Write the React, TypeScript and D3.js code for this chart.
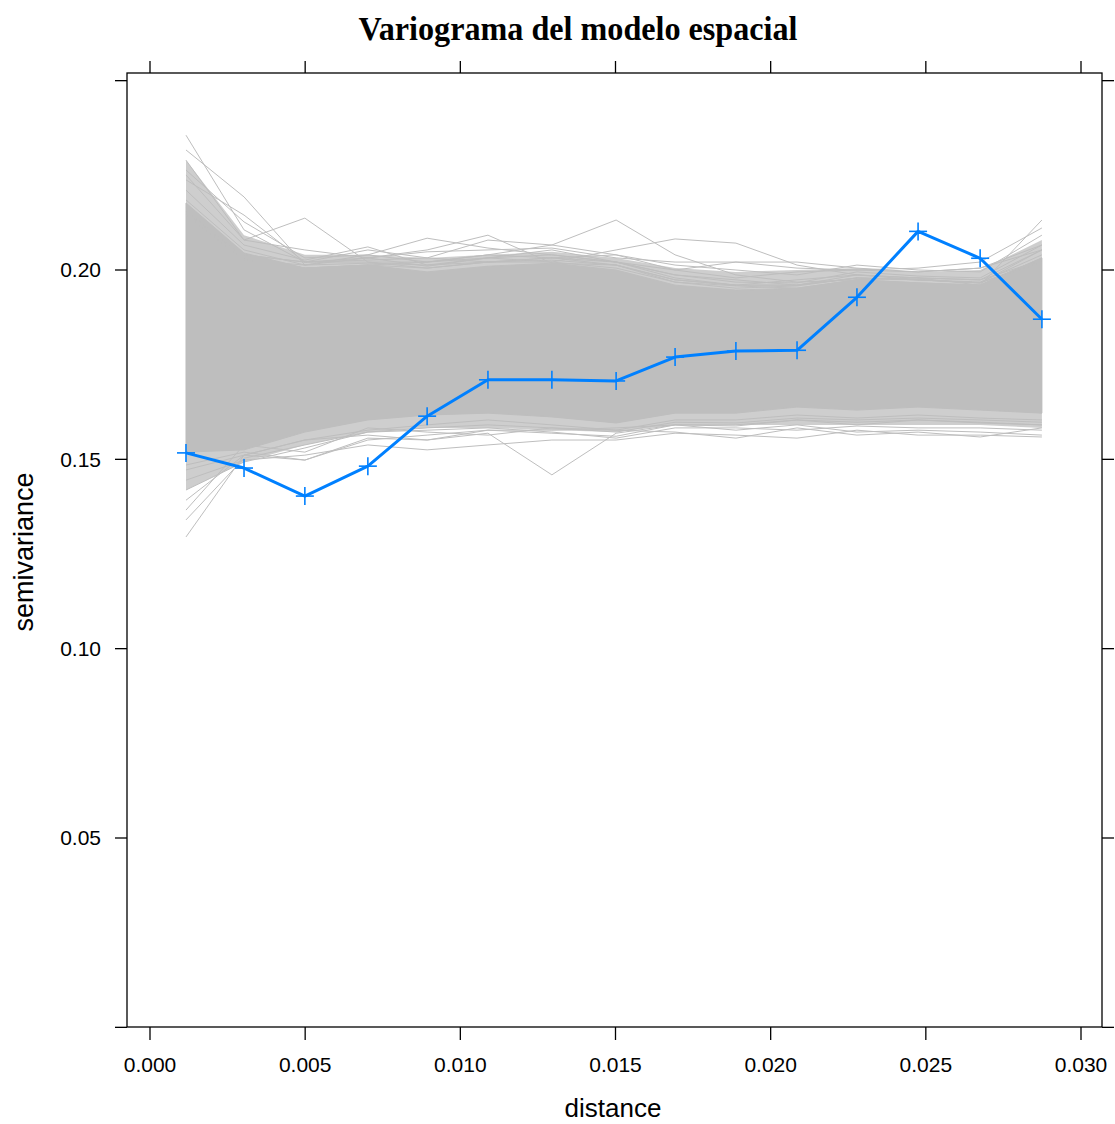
import React from "react";
import * as d3 from "d3";

// ---- data ----
const distances = [0.00116, 0.00303, 0.00499, 0.00702, 0.00893, 0.01089, 0.01295, 0.01502, 0.01692, 0.01888, 0.02085, 0.02278, 0.02475, 0.02675, 0.02874];
const observedGamma = [0.1517, 0.1477, 0.1403, 0.1482, 0.1614, 0.1710, 0.1710, 0.1707, 0.1770, 0.1786, 0.1788, 0.1928, 0.2102, 0.2031, 0.1870];

// dense core of the simulated envelope
const envelopeUpper = [0.2177, 0.2045, 0.2005, 0.2013, 0.1995, 0.2010, 0.2018, 0.2000, 0.1960, 0.1947, 0.1952, 0.1974, 0.1966, 0.1960, 0.2032];
const envelopeLower = [0.1519, 0.1525, 0.1572, 0.1604, 0.1617, 0.1622, 0.1612, 0.1596, 0.1622, 0.1622, 0.1638, 0.1630, 0.1638, 0.1630, 0.1622];
// looser fringe of the envelope
const fringeUpper = [0.2290, 0.2092, 0.2040, 0.2040, 0.2032, 0.2040, 0.2048, 0.2032, 0.2005, 0.1995, 0.2000, 0.2005, 0.1995, 0.2000, 0.2079];
const fringeLower = [0.1419, 0.1493, 0.1538, 0.1572, 0.1583, 0.1583, 0.1577, 0.1572, 0.1591, 0.1591, 0.1591, 0.1591, 0.1591, 0.1591, 0.1583];

// individual simulated variograms visible outside the dense core
const simUpper1 = [0.2356, 0.2106, 0.2021, 0.2021, 0.2005, 0.2021, 0.2032, 0.2013, 0.1974, 0.1960, 0.1960, 0.1979, 0.1974, 0.1968, 0.2040];
const simUpper2 = [0.2317, 0.2193, 0.2013, 0.2032, 0.2010, 0.2032, 0.2053, 0.2021, 0.1979, 0.1960, 0.1974, 0.1987, 0.1979, 0.1974, 0.2053];
const simUpper3 = [0.2251, 0.2079, 0.2137, 0.2021, 0.2021, 0.2040, 0.2032, 0.2021, 0.1987, 0.1968, 0.1966, 0.1995, 0.1984, 0.1979, 0.2066];
const simUpper4 = [0.2211, 0.2066, 0.2026, 0.2061, 0.2013, 0.2021, 0.2026, 0.2013, 0.1974, 0.1960, 0.1960, 0.1979, 0.1974, 0.1966, 0.2053];
const simUpper5 = [0.2185, 0.2053, 0.2013, 0.2040, 0.2084, 0.2058, 0.2040, 0.2021, 0.1987, 0.1974, 0.1960, 0.1987, 0.1979, 0.1974, 0.2026];
const simUpper6 = [0.2172, 0.2040, 0.2021, 0.2032, 0.2053, 0.2092, 0.2018, 0.2013, 0.1968, 0.1952, 0.1958, 0.1979, 0.1974, 0.1966, 0.2021];
const simUpper7 = [0.2158, 0.2032, 0.2005, 0.2013, 0.2021, 0.2040, 0.2066, 0.2132, 0.2040, 0.1987, 0.1968, 0.1974, 0.1966, 0.1960, 0.2032];
const simUpper8 = [0.2145, 0.2026, 0.2013, 0.2018, 0.2013, 0.2032, 0.2021, 0.2053, 0.2082, 0.2071, 0.2013, 0.1987, 0.1974, 0.1966, 0.2026];
const simUpper9 = [0.2164, 0.2040, 0.2021, 0.2026, 0.2032, 0.2079, 0.2066, 0.2040, 0.2000, 0.2021, 0.2021, 0.2005, 0.1995, 0.2005, 0.2053];
const simUpper10 = [0.2153, 0.2032, 0.2005, 0.2013, 0.2005, 0.2021, 0.2021, 0.2005, 0.1968, 0.1958, 0.1952, 0.1974, 0.1979, 0.1960, 0.2132];
const simUpper11 = [0.2264, 0.2127, 0.2032, 0.2040, 0.2021, 0.2032, 0.2040, 0.2021, 0.2000, 0.1979, 0.1995, 0.2000, 0.1995, 0.2005, 0.2066];
const simUpper12 = [0.2238, 0.2145, 0.2021, 0.2053, 0.2032, 0.2021, 0.2032, 0.2040, 0.2013, 0.2000, 0.1987, 0.2013, 0.2000, 0.1995, 0.2092];
const simUpper13 = [0.2290, 0.2079, 0.2053, 0.2032, 0.2048, 0.2053, 0.2058, 0.2032, 0.2021, 0.2021, 0.2005, 0.2000, 0.2005, 0.2021, 0.2111];
const simLower1 = [0.1295, 0.1511, 0.1551, 0.1577, 0.1591, 0.1604, 0.1591, 0.1577, 0.1604, 0.1604, 0.1617, 0.1609, 0.1617, 0.1609, 0.1604];
const simLower2 = [0.1340, 0.1503, 0.1538, 0.1572, 0.1583, 0.1591, 0.1583, 0.1572, 0.1598, 0.1596, 0.1609, 0.1604, 0.1609, 0.1604, 0.1598];
const simLower3 = [0.1392, 0.1511, 0.1498, 0.1556, 0.1551, 0.1577, 0.1569, 0.1561, 0.1591, 0.1588, 0.1604, 0.1598, 0.1604, 0.1598, 0.1591];
const simLower4 = [0.1472, 0.1511, 0.1551, 0.1564, 0.1551, 0.1569, 0.1459, 0.1569, 0.1591, 0.1591, 0.1604, 0.1591, 0.1604, 0.1596, 0.1591];
const simLower5 = [0.1445, 0.1498, 0.1511, 0.1538, 0.1525, 0.1538, 0.1551, 0.1551, 0.1569, 0.1564, 0.1556, 0.1577, 0.1564, 0.1564, 0.1559];
const simLower6 = [0.1485, 0.1519, 0.1498, 0.1551, 0.1564, 0.1577, 0.1577, 0.1583, 0.1591, 0.1577, 0.1591, 0.1572, 0.1577, 0.1572, 0.1564];
const simLower7 = [0.1419, 0.1493, 0.1530, 0.1572, 0.1577, 0.1583, 0.1572, 0.1556, 0.1583, 0.1583, 0.1577, 0.1588, 0.1583, 0.1583, 0.1577];
const simLower8 = [0.1366, 0.1538, 0.1519, 0.1583, 0.1572, 0.1564, 0.1583, 0.1577, 0.1572, 0.1556, 0.1583, 0.1564, 0.1572, 0.1559, 0.1583];

const simLines = [simUpper1, simUpper2, simUpper3, simUpper4, simUpper5, simUpper6, simUpper7, simUpper8, simUpper9, simUpper10,
  simUpper11, simUpper12, simUpper13,
  simLower1, simLower2, simLower3, simLower4, simLower5, simLower6, simLower7, simLower8];

const xTicks = [0, 0.005, 0.01, 0.015, 0.02, 0.025, 0.03];
const xTickLabels = ["0.000", "0.005", "0.010", "0.015", "0.020", "0.025", "0.030"];
const yTicks = [0, 0.05, 0.1, 0.15, 0.2, 0.25];
const yTickLabels = ["", "0.05", "0.10", "0.15", "0.20", ""];

const TITLE = "Variograma del modelo espacial";
const X_LABEL = "distance";
const Y_LABEL = "semivariance";

export default function App() {
  const W = 1115, H = 1124;
  const left = 127, right = 1102, top = 73, bottom = 1027;
  const x = d3.scaleLinear().domain([0, 0.03]).range([150, 1081]);
  const y = d3.scaleLinear().domain([0.05, 0.2]).range([838, 270]);

  const line = d3.line<number>().x((_, i) => x(distances[i])).y((v) => y(v));
  const band = (lo: number[]) => d3.area<number>()
    .x((_, i) => x(distances[i]))
    .y0((_, i) => y(lo[i]))
    .y1((v) => y(v));

  const grey = "#bebebe";
  const blue = "#0080ff";
  const sans = "Liberation Sans, Arial, sans-serif";

  return (
    <svg width={W} height={H} style={{ position: "absolute", left: 0, top: 0, background: "#fff" }}>
      <text x={578} y={40} textAnchor="middle" fontFamily="Liberation Serif, Times New Roman, serif" fontWeight="bold" fontSize={33} textLength={439} lengthAdjust="spacingAndGlyphs">{TITLE}</text>

      {/* envelope */}
      <path d={band(fringeLower)(fringeUpper) || ""} fill={grey} fillOpacity={0.75} stroke="none" />
      <path d={band(envelopeLower)(envelopeUpper) || ""} fill={grey} stroke={grey} strokeWidth={1} />
      {simLines.map((s, i) => (
        <path key={i} d={line(s) || ""} fill="none" stroke={grey} strokeWidth={1} />
      ))}

      {/* observed */}
      <path d={line(observedGamma) || ""} fill="none" stroke={blue} strokeWidth={3} strokeLinejoin="round" />
      {observedGamma.map((v, i) => {
        const cx = x(distances[i]), cy = y(v);
        return (
          <g key={i} stroke={blue} strokeWidth={1.6}>
            <line x1={cx - 9} x2={cx + 9} y1={cy} y2={cy} />
            <line x1={cx} x2={cx} y1={cy - 9} y2={cy + 9} />
          </g>
        );
      })}

      {/* panel box */}
      <rect x={left} y={top} width={right - left} height={bottom - top} fill="none" stroke="#000" strokeWidth={1.3} />

      {/* x ticks */}
      {xTicks.map((t, i) => (
        <g key={i} stroke="#000" strokeWidth={1.3}>
          <line x1={x(t)} x2={x(t)} y1={bottom} y2={bottom + 13} />
          <line x1={x(t)} x2={x(t)} y1={top} y2={top - 12} />
        </g>
      ))}
      {xTicks.map((t, i) => (
        <text key={i} x={x(t)} y={1072} textAnchor="middle" fontFamily={sans} fontSize={21}>{xTickLabels[i]}</text>
      ))}

      {/* y ticks */}
      {yTicks.map((t, i) => (
        <g key={i} stroke="#000" strokeWidth={1.3}>
          <line x1={left} x2={left - 12} y1={y(t)} y2={y(t)} />
          <line x1={right} x2={right + 12} y1={y(t)} y2={y(t)} />
        </g>
      ))}
      {yTicks.map((t, i) => (
        <text key={i} x={101} y={y(t)} dy="0.35em" textAnchor="end" fontFamily={sans} fontSize={21}>{yTickLabels[i]}</text>
      ))}

      <text x={613} y={1117} textAnchor="middle" fontFamily={sans} fontSize={26}>{X_LABEL}</text>
      <text transform="translate(33,552) rotate(-90)" textAnchor="middle" fontFamily={sans} fontSize={27}>{Y_LABEL}</text>
    </svg>
  );
}
